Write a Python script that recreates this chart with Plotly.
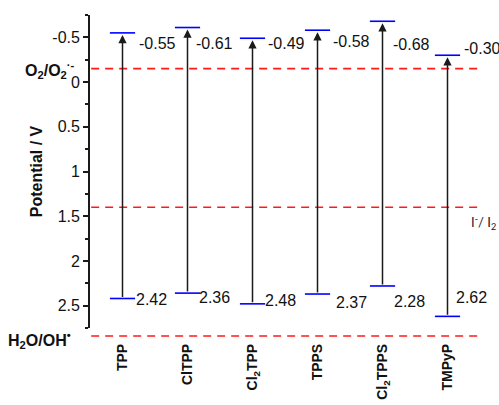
import plotly.graph_objects as go

# ---- data ----
categories = ["TPP", "ClTPP", "Cl<sub>2</sub>TPP", "TPPS", "Cl<sub>2</sub>TPPS", "TMPyP"]
top_values = [-0.55, -0.61, -0.49, -0.58, -0.68, -0.30]
bottom_values = [2.42, 2.36, 2.48, 2.37, 2.28, 2.62]
top_labels = ["-0.55", "-0.61", "-0.49", "-0.58", "-0.68", "-0.30"]
bottom_labels = ["2.42", "2.36", "2.48", "2.37", "2.28", "2.62"]
ref_names = ["O<sub>2</sub>/O<sub>2</sub><sup>·-</sup>", "I<sup>-</sup>/ I<sub>2</sub>", "H<sub>2</sub>O/OH<sup>•</sup>"]
ref_potentials = [-0.15, 1.40, 2.84]
y_ticks = [-0.5, 0, 0.5, 1, 1.5, 2, 2.5]
y_ticktext = ["-0.5", "0", "0.5", "1", "1.5", "2", "2.5"]
y_range = [2.75, -0.75]

# ---- label placement (style, category units / data units) ----
top_lab_dx = [0.23, 0.10, 0.21, 0.20, 0.13, 0.22]
top_lab_y = [-0.43, -0.43, -0.43, -0.45, -0.42, -0.38]
bot_lab_dx = [0.18, 0.14, 0.16, 0.26, 0.14, 0.10]
bot_lab_y = [2.43, 2.41, 2.44, 2.46, 2.45, 2.41]

FONT = "Arial, 'Liberation Sans', sans-serif"
xs = list(range(len(categories)))


def to_paper(v):
    return (y_range[0] - v) / (y_range[0] - y_range[1])


fig = go.Figure()

# blue caps at both ends
fig.add_trace(go.Scatter(
    x=xs + xs, y=top_values + bottom_values, mode="markers",
    marker=dict(symbol="line-ew", size=18, color="#0000ff",
                line=dict(color="#0000ff", width=1.6)),
    hoverinfo="skip", showlegend=False))

annotations = []
for i, x in enumerate(xs):
    annotations.append(dict(
        x=x, y=top_values[i], ax=x, ay=bottom_values[i],
        xref="x", yref="y", axref="x", ayref="y",
        text="", showarrow=True, arrowhead=2, arrowsize=1.1,
        arrowwidth=1.5, arrowcolor="#1a1a1a", standoff=2))
    annotations.append(dict(
        x=x + top_lab_dx[i], y=top_lab_y[i], xref="x", yref="y",
        text=top_labels[i], showarrow=False, xanchor="left", yanchor="middle",
        font=dict(family=FONT, size=16, color="#111111")))
    annotations.append(dict(
        x=x + bot_lab_dx[i], y=bot_lab_y[i], xref="x", yref="y",
        text=bottom_labels[i], showarrow=False,
        xanchor="left", yanchor="middle",
        font=dict(family=FONT, size=16, color="#111111")))

# reference potential lines (paper coords so the lowest can sit below the axis end)
shapes = []
for v in ref_potentials:
    p = to_paper(v)
    shapes.append(dict(type="line", xref="paper", yref="paper", x0=0.003, x1=1.005,
                       y0=p, y1=p, line=dict(color="#ff1a1a", width=1.6, dash="8px,6px")))

annotations.append(dict(x=-0.034, y=to_paper(ref_potentials[0] + 0.02), xref="paper", yref="paper",
                        text="<b>" + ref_names[0] + "</b>", showarrow=False,
                        xanchor="right", yanchor="middle",
                        font=dict(family=FONT, size=16, color="#111111")))
annotations.append(dict(x=0.972, y=to_paper(ref_potentials[1] + 0.17), xref="paper", yref="paper",
                        text=ref_names[1], showarrow=False,
                        xanchor="left", yanchor="middle",
                        font=dict(family="Lato, 'Open Sans', sans-serif", size=13, color="#101830")))
annotations.append(dict(x=-0.044, y=to_paper(ref_potentials[2] + 0.045), xref="paper", yref="paper",
                        text="<b>" + ref_names[2] + "</b>", showarrow=False,
                        xanchor="right", yanchor="middle",
                        font=dict(family=FONT, size=16, color="#111111")))

fig.update_layout(
    width=499, height=405,
    margin=dict(l=90, r=19, t=15, b=77),
    paper_bgcolor="white", plot_bgcolor="white",
    showlegend=False,
    shapes=shapes, annotations=annotations,
    xaxis=dict(range=[-0.5, 5.5], tickmode="array", tickvals=xs,
               ticktext=["<b>" + c + "</b>" for c in categories],
               tickangle=-90, showline=False, showgrid=False, zeroline=False,
               ticks="", ticklabelstandoff=12, automargin=False,
               tickfont=dict(family=FONT, size=14, color="#111111")),
    yaxis=dict(range=y_range, tickmode="array", tickvals=y_ticks, automargin=False,
               ticktext=y_ticktext, showline=True, linecolor="#1a1a1a", linewidth=1.8,
               ticks="outside", ticklen=5, tickwidth=1.5, tickcolor="#1a1a1a",
               minor=dict(dtick=0.25, tick0=0.25, ticks="outside", ticklen=3,
                          tickwidth=1.5, tickcolor="#1a1a1a", showgrid=False),
               showgrid=False, zeroline=False,
               tickfont=dict(family=FONT, size=16, color="#111111"),
               title=dict(text="<b>Potential / V</b>", standoff=6,
                          font=dict(family=FONT, size=16, color="#111111"))),
)

fig.write_html(
    "out.html",
    config={"displayModeBar": False},
    post_script="document.body.style.margin='0';document.body.style.overflow='hidden';",
)
